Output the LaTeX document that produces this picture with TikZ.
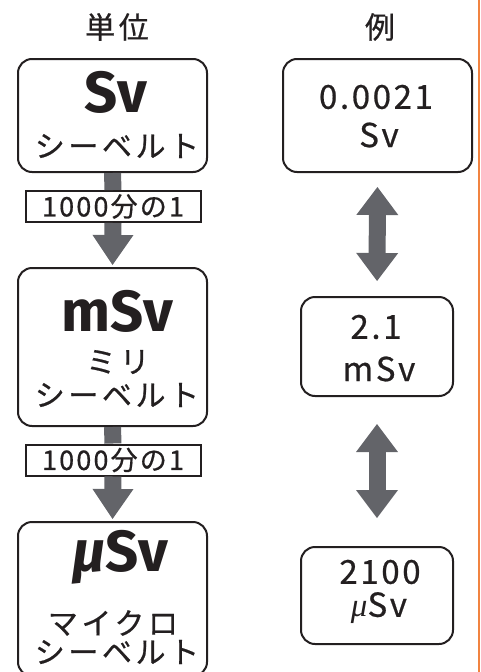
\documentclass[tikz,border=0pt]{standalone}
\usepackage{fontspec}
\setmainfont{Noto Sans CJK JP}
\newfontfamily\unitfont{Fira Sans}
\newfontfamily\kanafont[FakeBold=0.6, LetterSpace=12]{Noto Sans CJK JP}
\newfontfamily\numfont[FakeBold=0.6, LetterSpace=8]{Noto Sans CJK JP}
\newfontfamily\greekfont{Liberation Serif}
\usepackage{tikz}
\usetikzlibrary{arrows.meta,calc}
\definecolor{svgray}{RGB}{99,100,105}
\definecolor{svorange}{RGB}{241,131,64}
\definecolor{svink}{RGB}{35,31,32}
\tikzstyle{unitbox} = [rectangle, rounded corners=14pt, draw=svink, line width=2pt, fill=white, minimum width=189pt]
\tikzstyle{exbox} = [rectangle, rounded corners=14pt, draw=svink, line width=2pt, fill=white]
\tikzstyle{ratebox} = [rectangle, draw=svink, line width=2pt, fill=white, minimum width=175pt, minimum height=31pt, inner sep=0pt, text=svink, font=\numfont\fontsize{27}{30}\selectfont]
\tikzstyle{heading} = [inner sep=0pt, text=svink, font=\kanafont\fontsize{30}{34}\selectfont]
\tikzstyle{bigunit} = [inner sep=0pt, text=svink, font=\unitfont\bfseries\fontsize{58}{60}\selectfont]
\tikzstyle{kana} = [inner sep=0pt, text=svink, font=\kanafont\fontsize{30}{36}\selectfont]
\tikzstyle{exnum} = [inner sep=0pt, text=svink, font=\numfont\fontsize{33}{38}\selectfont]
\tikzstyle{stub} = [line width=17pt, draw=svgray]
\tikzstyle{downarrow} = [line width=17pt, draw=svgray, -{Triangle[length=30pt, width=41pt, line width=0pt]}]
\tikzstyle{bothway} = [line width=17pt, draw=svgray, {Triangle[length=28pt, width=42pt, line width=0pt]}-{Triangle[length=28pt, width=42pt, line width=0pt]}]

\begin{document}
\begin{tikzpicture}[x=1pt, y=-1pt]
\useasboundingbox (0,0) rectangle (481,672);
% Headings
\node[heading] (unithead) at (117,27) {単位};
\node[heading] (exhead) at (380,27) {例};

% Left column: units
\node[unitbox, minimum height=113pt] (sv) at (112.5,115.5) {};
\node[bigunit] (svsym) at (116,92) {Sv};
\node[kana] (svname) at (117,146) {シーベルト};

\node[ratebox] (rate1) at (113,206.5) {1000分の1};

\node[unitbox, minimum height=158pt] (msv) at (112.5,347) {};
\node[bigunit] (msvsym) at (117.5,311) {mSv};
\node[kana] (msvpre) at (118,362) {ミリ};
\node[kana] (msvname) at (117,395) {シーベルト};

\node[ratebox] (rate2) at (113,460) {1000分の1};

\node[unitbox, minimum height=154pt] (usv) at (112.5,599) {};
\node[bigunit] (usvsym) at (120,557) {{\itshape μ}Sv};
\node[kana] (usvpre) at (113,623) {マイクロ};
\node[kana] (usvname) at (117,652) {シーベルト};

% Right column: example values
\node[exbox, minimum width=189pt, minimum height=113pt] (ex1) at (377.5,115.5) {};
\node[exnum] (ex1num) at (376,97) {0.0021};
\node[exnum] (ex1unit) at (379,135) {Sv};

\node[exbox, minimum width=152pt, minimum height=99pt] (ex2) at (377,346.5) {};
\node[exnum] (ex2num) at (376,327) {2.1};
\node[exnum] (ex2unit) at (379,369) {mSv};

\node[exbox, minimum width=152pt, minimum height=97pt] (ex3) at (377,595.5) {};
\node[exnum] (ex3num) at (380,572) {2100};
\node[exnum] (ex3unit) at (379,608) {{\greekfont\itshape μ}Sv};

% Arrows
\draw[stub] (sv.south) -- (rate1.north);
\draw[downarrow, shorten >=2pt] (rate1.south) -- (msv.north);
\draw[stub] (msv.south) -- (rate2.north);
\draw[downarrow, shorten >=2pt] (rate2.south) -- (usv.north);
\draw[bothway, shorten <=14pt, shorten >=15pt] (ex1.south) -- (ex2.north);
\draw[bothway, shorten <=27pt, shorten >=28pt] (ex2.south) -- (ex3.north);

% Divider
\draw[svorange, line width=1.5pt] (479,0) -- (479,672);
\end{tikzpicture}
\end{document}
